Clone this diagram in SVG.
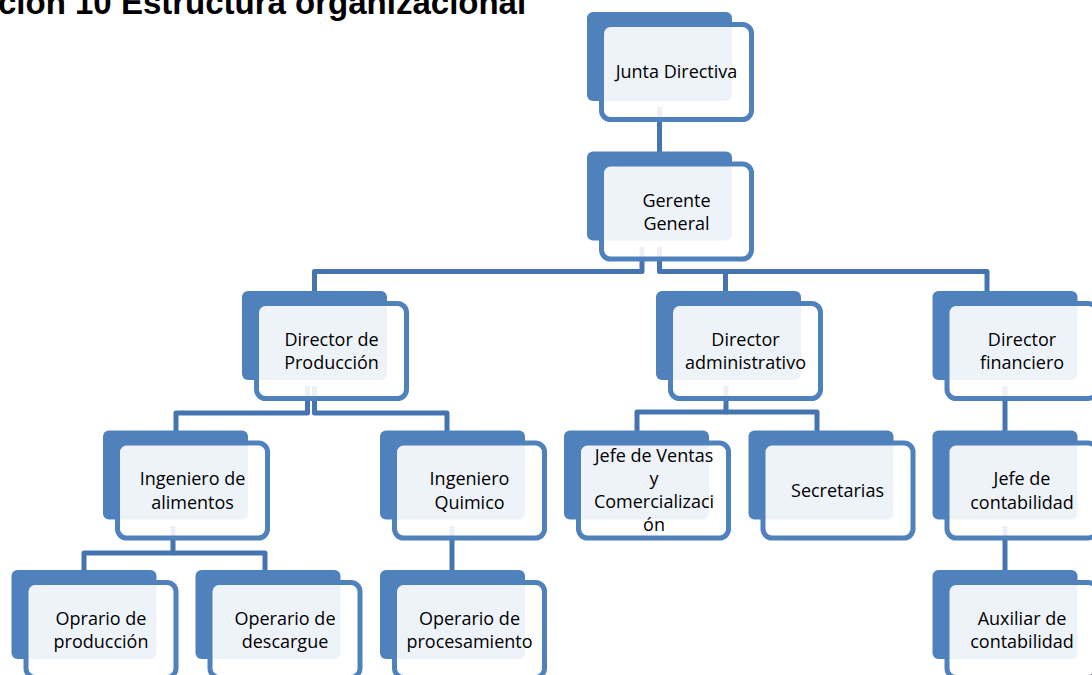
<svg xmlns="http://www.w3.org/2000/svg" width="1092" height="675" viewBox="0 0 1092 675">
<style>
.back{fill:#4F81BD}
.front{fill:#FFFFFF;fill-opacity:0.9;stroke:#4F81BD;stroke-width:5}
.lbl{font-family:"Open Sans","Noto Sans",sans-serif;font-size:18px;fill:#000;text-anchor:middle}
.conn{fill:none;stroke:#4674B0;stroke-width:5;stroke-linejoin:round}
.title{font-family:"Liberation Sans",Arial,sans-serif;font-weight:bold;font-size:33px;fill:#000}
</style>
<rect width="1092" height="675" fill="#FFFFFF"/>
<text class="title" x="-2" y="14">ción 10 Estructura organizacional</text>
<g id="connectors">
<path class="conn" d="M659.5 107 V152"/>
<path class="conn" d="M642 247 V271.5 H314.5 V292"/>
<path class="conn" d="M659.5 247 V271.5 H987 V292"/>
<path class="conn" d="M725.5 271.5 V292"/>
<path class="conn" d="M307.5 386 V413 H176 V431"/>
<path class="conn" d="M314.5 386 V413 H447 V431"/>
<path class="conn" d="M726 386 V412 H637 V431"/>
<path class="conn" d="M726 412 H817 V431"/>
<path class="conn" d="M1005 386 V431"/>
<path class="conn" d="M173 526 V553 H84 V570"/>
<path class="conn" d="M173 553 H265 V570"/>
<path class="conn" d="M452 526 V570"/>
<path class="conn" d="M1005 526 V570"/>
</g>
<g id="junta-directiva">
<rect class="back" x="587" y="12" width="145" height="89" rx="6"/>
<rect class="front" x="601.5" y="24.5" width="150" height="95" rx="9"/>
<text class="lbl" x="676.5" y="78">Junta Directiva</text>
</g>
<g id="gerente-general">
<rect class="back" x="587" y="151.5" width="145" height="89" rx="6"/>
<rect class="front" x="601.5" y="164" width="150" height="95" rx="9"/>
<text class="lbl" x="676.5" y="207">Gerente</text>
<text class="lbl" x="676.5" y="230">General</text>
</g>
<g id="director-produccion">
<rect class="back" x="242" y="291" width="145" height="89" rx="6"/>
<rect class="front" x="256.5" y="303.5" width="150" height="95" rx="9"/>
<text class="lbl" x="331.5" y="345.5">Director de</text>
<text class="lbl" x="331.5" y="369">Producción</text>
</g>
<g id="director-administrativo">
<rect class="back" x="656" y="291" width="145" height="89" rx="6"/>
<rect class="front" x="670.5" y="303.5" width="150" height="95" rx="9"/>
<text class="lbl" x="745.5" y="345.5">Director</text>
<text class="lbl" x="745.5" y="369">administrativo</text>
</g>
<g id="director-financiero">
<rect class="back" x="932.5" y="291" width="145" height="89" rx="6"/>
<rect class="front" x="947" y="303.5" width="150" height="95" rx="9"/>
<text class="lbl" x="1022" y="345.5">Director</text>
<text class="lbl" x="1022" y="369">financiero</text>
</g>
<g id="ingeniero-alimentos">
<rect class="back" x="103" y="430.5" width="145" height="89" rx="6"/>
<rect class="front" x="117.5" y="443" width="150" height="95" rx="9"/>
<text class="lbl" x="192.5" y="485">Ingeniero de</text>
<text class="lbl" x="192.5" y="508.5">alimentos</text>
</g>
<g id="ingeniero-quimico">
<rect class="back" x="380" y="430.5" width="145" height="89" rx="6"/>
<rect class="front" x="394.5" y="443" width="150" height="95" rx="9"/>
<text class="lbl" x="469.5" y="485">Ingeniero</text>
<text class="lbl" x="469.5" y="508.5">Quimico</text>
</g>
<g id="jefe-ventas">
<rect class="back" x="564" y="430.5" width="145" height="89" rx="6"/>
<rect class="front" x="578.5" y="443" width="150" height="95" rx="9"/>
<text class="lbl" x="654" y="462">Jefe de Ventas</text>
<text class="lbl" x="654" y="485">y</text>
<text class="lbl" x="654" y="508">Comercializaci</text>
<text class="lbl" x="654" y="531">ón</text>
</g>
<g id="secretarias">
<rect class="back" x="748.5" y="430.5" width="145" height="89" rx="6"/>
<rect class="front" x="763" y="443" width="150" height="95" rx="9"/>
<text class="lbl" x="837.5" y="496.5">Secretarias</text>
</g>
<g id="jefe-contabilidad">
<rect class="back" x="932.5" y="430.5" width="145" height="89" rx="6"/>
<rect class="front" x="947" y="443" width="150" height="95" rx="9"/>
<text class="lbl" x="1022" y="485">Jefe de</text>
<text class="lbl" x="1022" y="508.5">contabilidad</text>
</g>
<g id="oprario-produccion">
<rect class="back" x="11.5" y="570" width="145" height="89" rx="6"/>
<rect class="front" x="26" y="582.5" width="150" height="95" rx="9"/>
<text class="lbl" x="101" y="624.5">Oprario de</text>
<text class="lbl" x="101" y="648">producción</text>
</g>
<g id="operario-descargue">
<rect class="back" x="195.5" y="570" width="145" height="89" rx="6"/>
<rect class="front" x="210" y="582.5" width="150" height="95" rx="9"/>
<text class="lbl" x="285" y="624.5">Operario de</text>
<text class="lbl" x="285" y="648">descargue</text>
</g>
<g id="operario-procesamiento">
<rect class="back" x="380" y="570" width="145" height="89" rx="6"/>
<rect class="front" x="394.5" y="582.5" width="150" height="95" rx="9"/>
<text class="lbl" x="469.5" y="624.5">Operario de</text>
<text class="lbl" x="469.5" y="648">procesamiento</text>
</g>
<g id="auxiliar-contabilidad">
<rect class="back" x="932.5" y="570" width="145" height="89" rx="6"/>
<rect class="front" x="947" y="582.5" width="150" height="95" rx="9"/>
<text class="lbl" x="1022" y="624.5">Auxiliar de</text>
<text class="lbl" x="1022" y="648">contabilidad</text>
</g>
</svg>
